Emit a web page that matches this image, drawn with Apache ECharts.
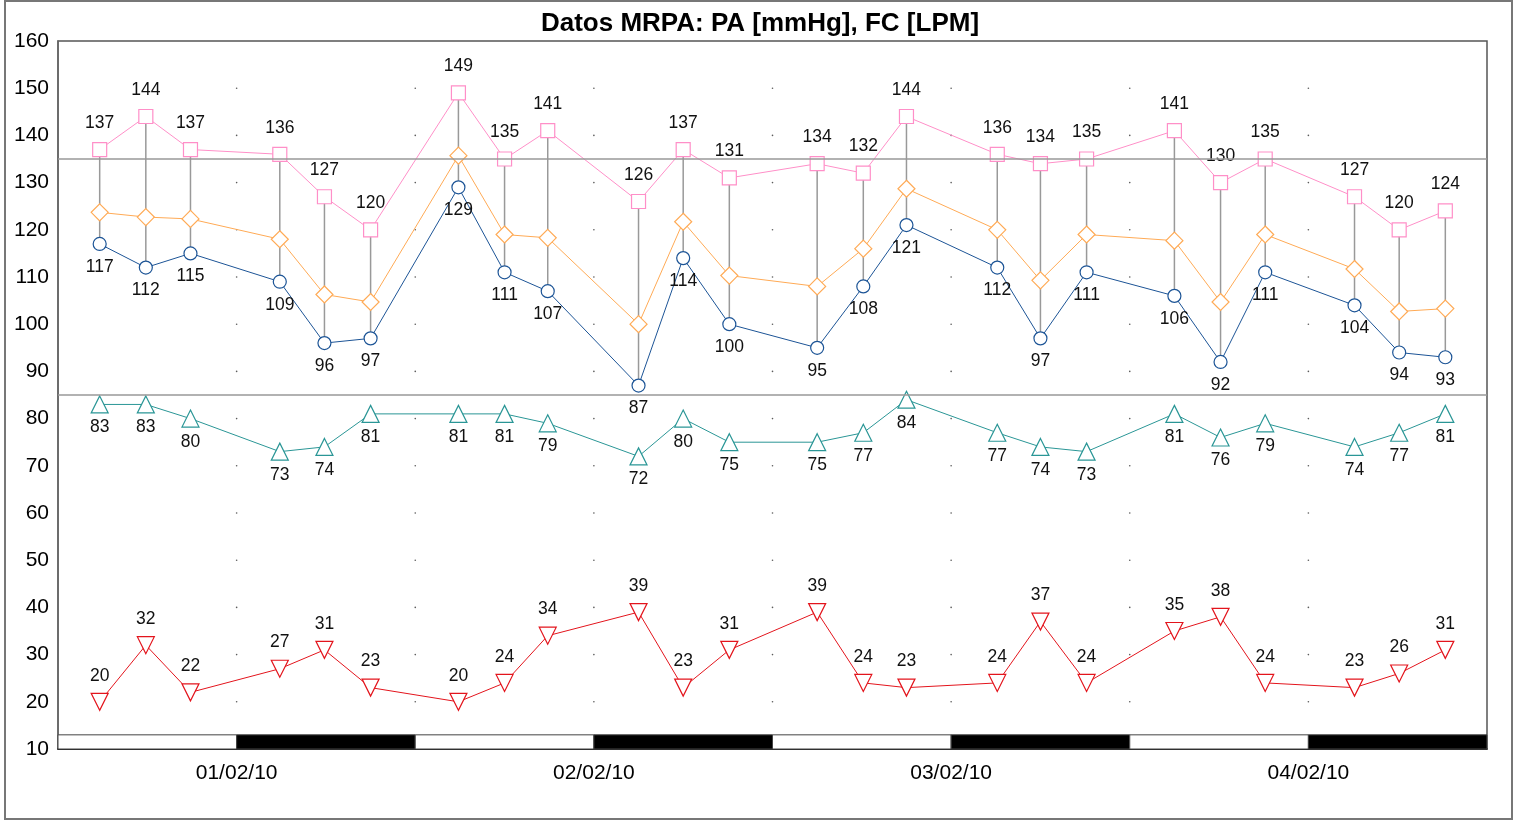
<!DOCTYPE html>
<html>
<head>
<meta charset="utf-8">
<script src="https://cdn.jsdelivr.net/npm/echarts@6/dist/echarts.min.js"></script>
<style>
  html, body { margin: 0; padding: 0; background: #fff; }
  #chart { width: 1520px; height: 821px; }
</style>
</head>
<body>
<div id="chart"></div>
<script>
// measurement times, hours from the left edge of the axis
let hours = [2.8, 5.9, 8.9, 14.9, 17.9, 21.0, 26.9, 30.0, 32.9, 39.0, 42.0, 45.1,
             51.0, 54.1, 57.0, 63.1, 66.0, 69.1, 75.0, 78.1, 81.1, 87.1, 90.1, 93.2];

let sistolica = [137, 144, 137, 136, 127, 120, 149, 135, 141, 126, 137, 131,
                 134, 132, 144, 136, 134, 135, 141, 130, 135, 127, 120, 124];
let media = [123.7, 122.7, 122.3, 118, 106.3, 104.7, 135.7, 119, 118.3, 100, 121.7, 110.3,
             108, 116, 128.7, 120, 109.3, 119, 117.7, 104.7, 119, 111.7, 102.7, 103.3];
let diastolica = [117, 112, 115, 109, 96, 97, 129, 111, 107, 87, 114, 100,
                  95, 108, 121, 112, 97, 111, 106, 92, 111, 104, 94, 93];
let frecuencia = [83, 83, 80, 73, 74, 81, 81, 81, 79, 72, 80, 75,
                  75, 77, 84, 77, 74, 73, 81, 76, 79, 74, 77, 81];
let presionPulso = [20, 32, 22, 27, 31, 23, 20, 24, 34, 39, 23, 31,
                    39, 24, 23, 24, 37, 24, 35, 38, 24, 23, 26, 31];

let dateHours = [12, 36, 60, 84];
let dateLabels = ["01/02/10", "02/02/10", "03/02/10", "04/02/10"];

// day / night bar segments
let barEdges = [0, 12, 24, 36, 48, 60, 72, 84, 96];
let barNight = [false, true, false, true, false, true, false, true];

// dotted grid
let gridHours = [12, 24, 36, 48, 60, 72, 84];
let gridValues = [20, 30, 40, 50, 60, 70, 80, 90, 100, 110, 120, 130, 140, 150];

let refLines = [135, 85];

let font = "Liberation Sans, Arial, sans-serif";

function pairs(vals) {
    return hours.map((h, i) => [h, vals[i]]);
}

let chart = echarts.init(document.getElementById("chart"));

let dots = [];
gridHours.forEach(h => gridValues.forEach(v => dots.push([h, v])));

let barData = [];
for (let i = 0; i < barNight.length; i++) {
    barData.push([
        { xAxis: barEdges[i], yAxis: 10, itemStyle: { color: barNight[i] ? "#000" : "#fff" } },
        { xAxis: barEdges[i + 1], yAxis: 13 }
    ]);
}

function lineSeries(name, vals, color, symbol, size, labelPos, dist, extra) {
    return Object.assign({
        name: name,
        type: "line",
        data: pairs(vals),
        z: 4,
        symbol: symbol,
        symbolSize: size,
        showAllSymbol: true,
        lineStyle: { color: color, width: 1 },
        itemStyle: { color: "#fff", borderColor: color, borderWidth: 1.2 },
        label: {
            show: labelPos !== null,
            position: labelPos || "top",
            distance: dist,
            color: "#111",
            fontSize: 17.5,
            fontFamily: font,
            formatter: p => p.value[1]
        },
        emphasis: { disabled: true },
        animation: false
    }, extra || {});
}

let option = {
    animation: false,
    title: {
        text: "Datos MRPA: PA [mmHg], FC [LPM]",
        left: "center",
        top: 6,
        textStyle: { fontSize: 26, fontWeight: "bold", fontFamily: font, color: "#000" }
    },
    graphic: [{
        type: "rect",
        shape: { x: 5, y: 1, width: 1507, height: 818 },
        style: { fill: "none", stroke: "#777", lineWidth: 2 },
        silent: true
    }],
    grid: {
        left: 58, right: 33, top: 41, bottom: 72,
        show: true, borderColor: "#555", borderWidth: 1.5, backgroundColor: "transparent"
    },
    xAxis: {
        type: "value",
        min: 0, max: 96, interval: 12,
        axisLine: { show: true, lineStyle: { color: "#000", width: 1.5 } },
        axisTick: { show: false },
        splitLine: { show: false },
        axisLabel: {
            margin: 14,
            fontSize: 21,
            fontFamily: font,
            color: "#000",
            formatter: v => {
                let i = dateHours.indexOf(v);
                return i >= 0 ? dateLabels[i] : "";
            }
        }
    },
    yAxis: {
        type: "value",
        min: 10, max: 160, interval: 10,
        axisLine: { show: true, lineStyle: { color: "#666", width: 1.5 } },
        axisTick: { show: false },
        splitLine: { show: false },
        axisLabel: { margin: 9, fontSize: 21, fontFamily: font, color: "#000" }
    },
    series: [
        {
            name: "puntos",
            type: "scatter",
            data: dots,
            symbol: "circle",
            symbolSize: 1.6,
            itemStyle: { color: "#333" },
            silent: true,
            z: 1,
            markLine: {
                silent: true,
                symbol: "none",
                label: { show: false },
                lineStyle: { color: "#999", width: 1.5, type: "solid" },
                data: refLines.map(v => ({ yAxis: v }))
            },
            markArea: {
                silent: true,
                itemStyle: { borderColor: "#444", borderWidth: 1 },
                data: barData
            }
        },
        {
            name: "rango",
            type: "custom",
            z: 2,
            silent: true,
            data: hours.map((h, i) => [h, sistolica[i], diastolica[i]]),
            renderItem: (params, api) => {
                let a = api.coord([api.value(0), api.value(1)]);
                let b = api.coord([api.value(0), api.value(2)]);
                return {
                    type: "line",
                    shape: { x1: a[0], y1: a[1], x2: b[0], y2: b[1] },
                    style: { stroke: "#999", lineWidth: 1.5 }
                };
            }
        },
        lineSeries("Diferencial", presionPulso, "#e3141c", "triangle", 17, "top", 8, { symbolRotate: 180 }),
        lineSeries("FC", frecuencia, "#2a9696", "triangle", 17, "bottom", 5),
        lineSeries("Diastólica", diastolica, "#1c5496", "circle", 13, "bottom", 7),
        lineSeries("Media", media, "#ffaa55", "diamond", 17, null, 0),
        lineSeries("Sistólica", sistolica, "#ff8fc8", "rect", 14, "top", 10)
    ]
};

chart.setOption(option);
</script>
</body>
</html>
